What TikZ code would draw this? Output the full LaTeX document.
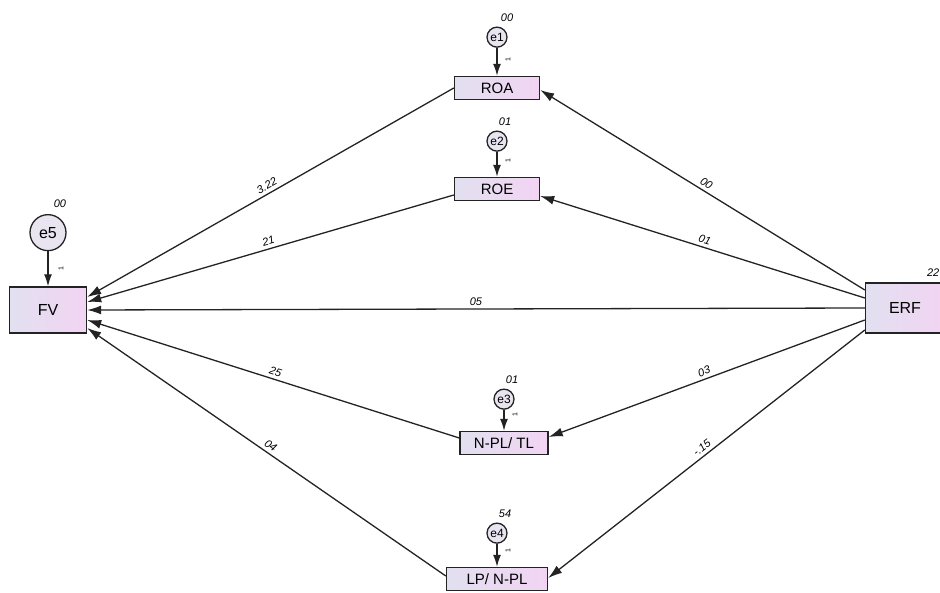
\documentclass[tikz,border=0pt]{standalone}
\usepackage{fontspec}
\setmainfont{Liberation Sans}
\usetikzlibrary{arrows.meta, positioning, calc}

\definecolor{boxleft}{RGB}{226,224,240}
\definecolor{boxright}{RGB}{242,212,242}
\definecolor{errfill}{RGB}{232,228,240}
\definecolor{edge}{RGB}{35,35,35}

\begin{document}
\begin{tikzpicture}[
    x=1pt, y=1pt,
    var/.style={rectangle, draw=edge, line width=1.4pt, left color=boxleft, right color=boxright, minimum width=85pt, minimum height=23pt, inner sep=0pt, font=\fontsize{15}{15}\selectfont},
    err/.style={circle, draw=edge, line width=1.3pt, fill=errfill, minimum size=20pt, inner sep=0pt, font=\fontsize{12}{12}\selectfont},
    link/.style={draw=edge, line width=1.3pt, {Latex[length=14pt,width=9pt]}-},
    fixed/.style={draw=edge, line width=1.3pt, -{Latex[length=12pt,width=8pt]}},
    coef/.style={above, sloped, inner sep=3pt, font=\fontsize{11}{11}\selectfont\itshape},
    vari/.style={font=\fontsize{11}{11}\selectfont\itshape},
    one/.style={font=\fontsize{7}{7}\selectfont, rotate=90}
  ]

  \useasboundingbox (0,0) rectangle (940,592);

  % --- Observed variables ---
  \node[var, minimum width=77pt, minimum height=46pt, font=\fontsize{16}{16}\selectfont] (fv) at (48,282) {FV};
  \node[var, minimum width=79pt, minimum height=50pt, font=\fontsize{16}{16}\selectfont] (erf) at (905,284) {ERF};
  \node[var] (roa) at (497,504) {ROA};
  \node[var] (roe) at (497,403) {ROE};
  \node[var, minimum width=88pt] (npl) at (504,149) {N-PL/ TL};
  \node[var, minimum width=101pt] (lp) at (497,13) {LP/ N-PL};

  % --- Error terms ---
  \node[err, above=28pt of roa] (e1) {e1};
  \node[err, above=25pt of roe] (e2) {e2};
  \node[err, above=21pt of npl] (e3) {e3};
  \node[err, above=23pt of lp] (e4) {e4};
  \node[err, minimum size=36pt, font=\fontsize{16}{16}\selectfont, above=35pt of fv] (e5) {e5};

  \node[vari] (v1) at ($(e1.north)+(10,9)$) {00};
  \node[vari] (v2) at ($(e2.north)+(8,9)$) {01};
  \node[vari] (v3) at ($(e3.north)+(8,9)$) {01};
  \node[vari] (v4) at ($(e4.north)+(8,9)$) {54};
  \node[vari] (v5) at ($(e5.north)+(12,10)$) {00};
  \node[vari] (v6) at ($(erf.north east)+(-12,10)$) {22};

  \draw[fixed] (e1) -- (roa);
  \draw[fixed] (e2) -- (roe);
  \draw[fixed] (e3) -- (npl);
  \draw[fixed] (e4) -- (lp);
  \draw[fixed] (e5) -- (fv);

  \node[one] (f1) at ($(roa.north)+(11,16)$) {1};
  \node[one] (f2) at ($(roe.north)+(11,16)$) {1};
  \node[one] (f3) at ($(npl.north)+(11,16)$) {1};
  \node[one] (f4) at ($(lp.north)+(11,16)$) {1};
  \node[one] (f5) at ($(fv.north)+(13,18)$) {1};

  % --- Paths into FV ---
  \draw[link] ([yshift=13pt]fv.east) -- node[coef] {3.22} (roa.west);
  \draw[link] ([yshift=8pt]fv.east) -- node[coef] {21} ([yshift=-6pt]roe.west);
  \draw[link] (fv.east) -- node[coef] {05} (erf.west);
  \draw[link] ([yshift=-10pt]fv.east) -- node[coef] {25} ([yshift=5pt]npl.west);
  \draw[link] ([yshift=-18pt]fv.east) -- node[coef] {04} ([yshift=3pt]lp.west);

  % --- Paths from ERF ---
  \draw[link] ([yshift=-2pt]roa.east) -- node[coef] {00} ([yshift=18pt]erf.west);
  \draw[link] ([yshift=-7pt]roe.east) -- node[coef] {01} ([yshift=10pt]erf.west);
  \draw[link] ([yshift=6pt]npl.east) -- node[coef] {03} ([yshift=-12pt]erf.west);
  \draw[link] ([yshift=1pt]lp.east) -- node[coef] {-.15} ([yshift=-22pt]erf.west);

\end{tikzpicture}
\end{document}
